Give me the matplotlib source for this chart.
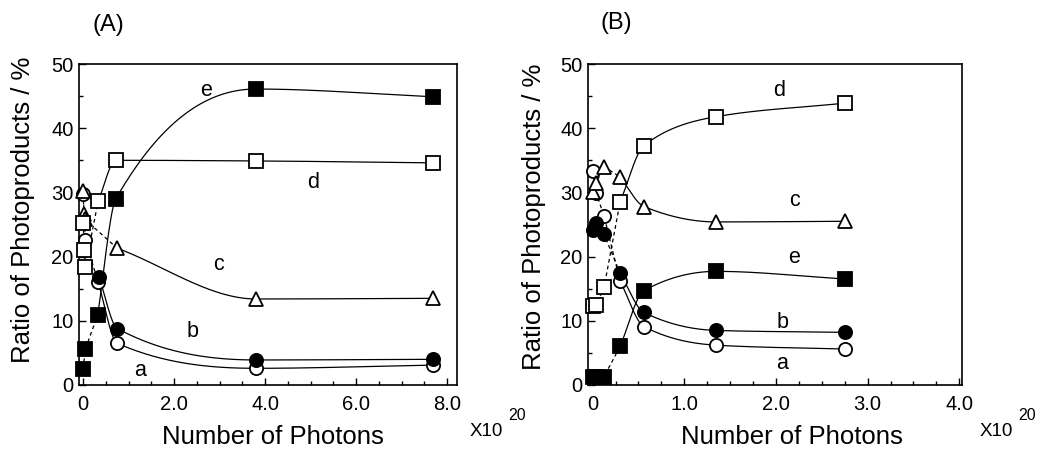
import numpy as np
import matplotlib
matplotlib.use("Agg")
import matplotlib.pyplot as plt
from matplotlib.ticker import MultipleLocator

plt.rcParams["font.family"] = ["Liberation Sans", "DejaVu Sans"]

# Datos (x en unidades de 1e20 fotones, y en %)
# Panel (A)
xa_A = [0.0, 0.05, 0.33, 0.75, 3.8, 7.7]
ya_A = [29.8, 22.6, 16.0, 6.5, 2.6, 3.1]
xb_A = [0.35, 0.75, 3.8, 7.7]
yb_A = [16.8, 8.8, 3.9, 4.0]
xc_A = [0.0, 0.02, 0.04, 0.75, 3.8, 7.7]
yc_A = [30.2, 26.6, 25.8, 21.3, 13.4, 13.5]
xd_A = [0.0, 0.03, 0.05, 0.33, 0.72, 3.8, 7.7]
yd_A = [25.3, 21.0, 18.4, 28.6, 35.0, 34.9, 34.6]
xe_A = [0.0, 0.05, 0.32, 0.72, 3.8, 7.7]
ye_A = [2.5, 5.6, 10.9, 29.0, 46.1, 44.9]

# Panel (B)
x_B = [0.0, 0.04, 0.125, 0.30, 0.56, 1.35, 2.75]
ya_B = [33.3, 29.9, 26.3, 16.2, 9.1, 6.2, 5.6]
yb_B = [24.1, 25.3, 23.5, 17.4, 11.3, 8.5, 8.2]
yc_B = [30.0, 31.5, 34.0, 32.4, 27.8, 25.4, 25.5]
yd_B = [12.3, 12.5, 15.2, 28.5, 37.3, 41.8, 43.9]
ye_B = [1.3, 1.3, 1.3, 6.0, 14.7, 17.7, 16.5]

ticks_x_A = [0, 2, 4, 6, 8]
etiquetas_x_A = ["0", "2.0", "4.0", "6.0", "8.0"]
ticks_x_B = [0, 1, 2, 3, 4]
etiquetas_x_B = ["0", "1.0", "2.0", "3.0", "4.0"]
ticks_y = [0, 10, 20, 30, 40, 50]

# Posicion de las letras de cada curva (en coordenadas de datos)
letras = ["a", "b", "c", "d", "e"]
pos_letras_A = [(1.25, 2.3), (2.4, 8.3), (2.97, 18.7), (5.05, 31.5), (2.7, 45.9)]
pos_letras_B = [(2.07, 3.4), (2.07, 9.8), (2.2, 28.8), (2.04, 45.9), (2.2, 19.9)]

# Estilo de marcadores: a, b, c, d, e
estilos = [
    dict(marker="o", mfc="white"),
    dict(marker="o", mfc="black"),
    dict(marker="^", mfc="white"),
    dict(marker="s", mfc="white"),
    dict(marker="s", mfc="black"),
]


def curva_suave(x, y, n=300):
    """Curva monotona por tramos (Hermite tipo PCHIP) solo para dibujar."""
    x = np.asarray(x, float)
    y = np.asarray(y, float)
    if len(x) < 3:
        return x, y
    h = np.diff(x)
    delta = np.diff(y) / h
    m = np.zeros_like(x)
    m[0] = delta[0]
    m[-1] = delta[-1]
    for k in range(1, len(x) - 1):
        if delta[k - 1] * delta[k] > 0:
            w1 = 2 * h[k] + h[k - 1]
            w2 = h[k] + 2 * h[k - 1]
            m[k] = (w1 + w2) / (w1 / delta[k - 1] + w2 / delta[k])
    xs = np.linspace(x[0], x[-1], n)
    idx = np.clip(np.searchsorted(x, xs) - 1, 0, len(h) - 1)
    t = (xs - x[idx]) / h[idx]
    h00 = 2 * t**3 - 3 * t**2 + 1
    h10 = t**3 - 2 * t**2 + t
    h01 = -2 * t**3 + 3 * t**2
    h11 = t**3 - t**2
    ys = (h00 * y[idx] + h10 * h[idx] * m[idx]
          + h01 * y[idx + 1] + h11 * h[idx] * m[idx + 1])
    return xs, ys


def dibujar_serie(ax, x, y, estilo, umbral=0.3):
    """Tramo inicial discontinuo y curva suave continua a partir de umbral."""
    x = np.asarray(x, float)
    y = np.asarray(y, float)
    k = int(np.argmax(x >= umbral))
    if k > 0:
        ax.plot(x[:k + 1], y[:k + 1], color="black", lw=0.9,
                ls=(0, (3, 2.5)), zorder=2)
    xs, ys = curva_suave(x[k:], y[k:])
    ax.plot(xs, ys, color="black", lw=0.9, zorder=2)
    ax.plot(x, y, ls="none", ms=9.5, mec="black", mew=1.3, zorder=3,
            clip_on=False, **estilo)


def preparar_ejes(ax, xlim, ticks_x, etiquetas_x, paso_menor_x):
    ax.set_xlim(*xlim)
    ax.set_ylim(0, 50)
    ax.set_xticks(ticks_x)
    ax.set_xticklabels(etiquetas_x)
    ax.set_yticks(ticks_y)
    ax.set_yticklabels([str(v) for v in ticks_y])
    ax.xaxis.set_minor_locator(MultipleLocator(paso_menor_x))
    ax.yaxis.set_minor_locator(MultipleLocator(5))
    ax.tick_params(which="both", direction="in", top=False, right=False,
                   width=1.0, labelsize=14.5)
    ax.tick_params(axis="x", which="both", pad=7)
    ax.tick_params(axis="y", which="both", pad=4)
    ax.tick_params(which="major", length=5)
    ax.tick_params(which="minor", length=3)
    for lado in ax.spines.values():
        lado.set_linewidth(1.2)


W, H = 1038, 453
fig = plt.figure(figsize=(W / 100, H / 100), dpi=100)
ax_A = fig.add_axes([79 / W, 1 - 385 / H, 378 / W, 321 / H])
ax_B = fig.add_axes([588 / W, 1 - 385 / H, 374 / W, 321 / H])

series_A = [(xa_A, ya_A), (xb_A, yb_A), (xc_A, yc_A), (xd_A, yd_A), (xe_A, ye_A)]
series_B = [(x_B, ya_B), (x_B, yb_B), (x_B, yc_B), (x_B, yd_B), (x_B, ye_B)]

for (x, y), estilo in zip(series_A, estilos):
    dibujar_serie(ax_A, x, y, estilo)
for (x, y), estilo in zip(series_B, estilos):
    dibujar_serie(ax_B, x, y, estilo)

for letra, (px, py) in zip(letras, pos_letras_A):
    ax_A.text(px, py, letra, fontsize=15.5, ha="center", va="center")
for letra, (px, py) in zip(letras, pos_letras_B):
    ax_B.text(px, py, letra, fontsize=15.5, ha="center", va="center")

preparar_ejes(ax_A, (-0.09, 8.22), ticks_x_A, etiquetas_x_A, 0.5)
preparar_ejes(ax_B, (-0.05, 4.03), ticks_x_B, etiquetas_x_B, 0.25)


# Textos de la figura (posiciones en pixeles)
def texto(px, py, s, **kw):
    fig.text(px / W, 1 - py / H, s, **kw)


texto(108, 25, "(A)", fontsize=17, ha="center", va="center")
texto(616, 23, "(B)", fontsize=17, ha="center", va="center")
for cx in (273, 792):
    texto(cx, 437, "Number of Photons", fontsize=18.5, ha="center", va="center")
texto(23, 210, "Ratio of Photoproducts / %", fontsize=18.5, rotation=90,
      ha="center", va="center")
texto(534, 217, "Ratio of Photoproducts / %", fontsize=18.5, rotation=90,
      ha="center", va="center")
for x0 in (470, 980):
    texto(x0, 431, "X10", fontsize=13.5, ha="left", va="center")
    texto(x0 + 38, 415, "20", fontsize=11.5, ha="left", va="center")

fig.savefig("out.png", dpi=100)
plt.close(fig)
